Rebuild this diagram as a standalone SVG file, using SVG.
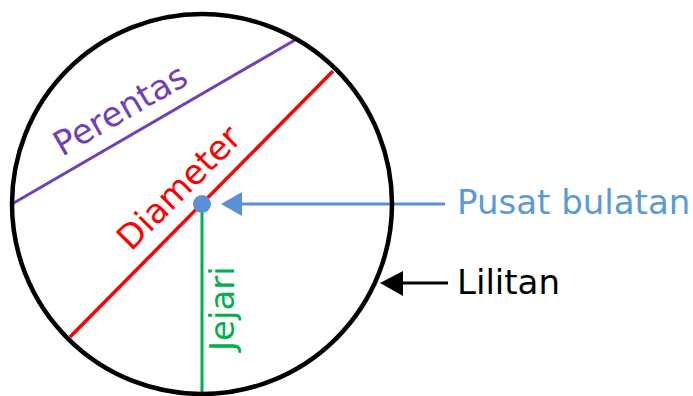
<svg xmlns="http://www.w3.org/2000/svg" width="693" height="396" viewBox="0 0 693 396">
<style>
.lbl{font-family:"DejaVu Sans","Verdana",sans-serif;font-size:34px}
</style>
<rect width="693" height="396" fill="#ffffff"/>
<g id="connectors">
<line x1="12" y1="204" x2="295" y2="40" stroke="#7040b8" stroke-width="3"/>
<line x1="333" y1="71" x2="70" y2="337" stroke="#ff0000" stroke-width="3.5"/>
<line x1="202" y1="204" x2="202" y2="396" stroke="#00b050" stroke-width="3"/>
<line x1="238" y1="204" x2="445" y2="204" stroke="#5b8fd6" stroke-width="3"/>
<polygon points="221,204 242,192 242,216" fill="#5b8fd6"/>
<line x1="400" y1="283" x2="448" y2="283" stroke="#000000" stroke-width="3"/>
</g>
<g id="circle">
<circle cx="202" cy="204" r="190" fill="none" stroke="#000000" stroke-width="4.5"/>
</g>
<g id="lilitan-arrow">
<polygon points="380,283 403,271 403,296" fill="#000000"/>
</g>
<g id="center">
<circle cx="202" cy="204" r="9" fill="#5b8fd6"/>
</g>
<g id="perentas">
<text class="lbl" fill="#7040b8" transform="translate(62,157) rotate(-30)">Perentas</text>
</g>
<g id="diameter">
<text class="lbl" fill="#ff0000" transform="translate(131,252) rotate(-45)">Diameter</text>
</g>
<g id="jejari">
<text class="lbl" fill="#00b050" transform="translate(234,351) rotate(-90)">Jejari</text>
</g>
<g id="pusat">
<text class="lbl" fill="#5b9bd5" x="457" y="214">Pusat bulatan</text>
</g>
<g id="lilitan">
<text class="lbl" fill="#000000" x="457" y="294">Lilitan</text>
</g>
</svg>
